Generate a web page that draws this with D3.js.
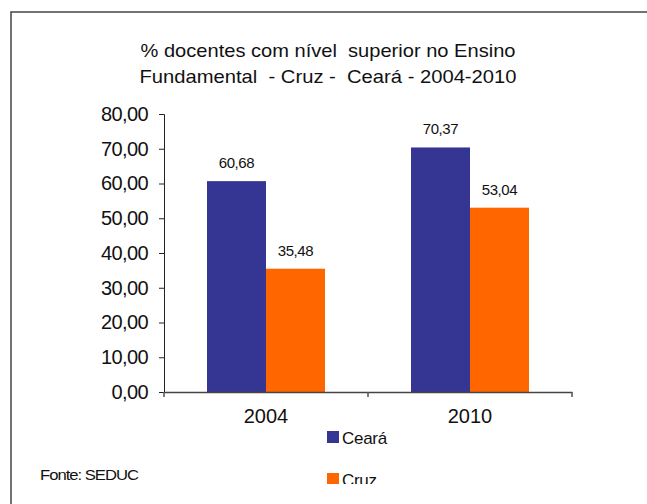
<!DOCTYPE html>
<html>
<head>
<meta charset="utf-8">
<script src="https://cdn.jsdelivr.net/npm/d3@7"></script>
<style>
  html, body { margin: 0; padding: 0; background: #ffffff; }
  svg { display: block; font-family: "Liberation Sans", Arial, sans-serif; }
</style>
</head>
<body>
<svg id="chart" width="647" height="504"></svg>
<script>
const categories = ["2004", "2010"];
const seriesNames = ["Ceará", "Cruz"];
const cearaValues = [60.68, 70.37];
const cruzValues = [35.48, 53.04];
const yTicks = [0, 10, 20, 30, 40, 50, 60, 70, 80];
const titleLines = ["% docentes com nível  superior no Ensino", "Fundamental  - Cruz -  Ceará - 2004-2010"];
const sourceText = "Fonte: SEDUC";
const colors = ["#353594", "#ff6600"];

const fmt = v => d3.format(".2f")(v).replace(".", ",");
const svg = d3.select("#chart");

// outer frame
svg.append("path")
  .attr("d", "M11,504 L11,12 L647,12")
  .attr("fill", "none").attr("stroke", "#444").attr("stroke-width", 1.5);

// title
svg.append("g").selectAll("text").data(titleLines).join("text")
  .attr("x", 328).attr("y", (d, i) => 57 + i * 26)
  .attr("text-anchor", "middle")
  .attr("font-size", 19).attr("fill", "#111")
  .attr("textLength", (d, i) => i === 0 ? 375 : 377)
  .attr("lengthAdjust", "spacingAndGlyphs")
  .style("white-space", "pre")
  .text(d => d);

const x = d3.scaleBand().domain(categories).range([164, 572]).paddingInner(0).paddingOuter(0);
const y = d3.scaleLinear().domain([0, 80]).range([392, 114]);
const barW = 59;

// y axis
const yAxis = d3.axisLeft(y).tickValues(yTicks).tickFormat(fmt).tickSize(5).tickPadding(11);
const gy = svg.append("g").attr("transform", "translate(164,0)").call(yAxis);
gy.selectAll("text").attr("font-size", 20).attr("fill", "#111")
  .attr("font-family", "Liberation Sans, Arial, sans-serif").attr("letter-spacing", -0.6);
gy.selectAll("line, path").attr("stroke", "#222");

// bars
const seriesData = [cearaValues, cruzValues];
seriesData.forEach((vals, s) => {
  svg.append("g").selectAll("rect").data(categories).join("rect")
    .attr("x", d => x(d) + x.bandwidth() / 2 - barW + s * barW)
    .attr("width", barW)
    .attr("y", (d, i) => y(vals[i]))
    .attr("height", (d, i) => y(0) - y(vals[i]))
    .attr("fill", colors[s]);
  svg.append("g").selectAll("text").data(categories).join("text")
    .attr("x", d => x(d) + x.bandwidth() / 2 - barW / 2 + s * barW)
    .attr("y", (d, i) => y(vals[i]) - 13)
    .attr("text-anchor", "middle")
    .attr("font-size", 15).attr("fill", "#111").attr("letter-spacing", -0.4)
    .text((d, i) => fmt(vals[i]));
});

// x axis
const xAxis = d3.axisBottom(x).tickSize(0).tickPadding(21);
const gx = svg.append("g").attr("transform", "translate(0,392)").call(xAxis);
gx.select(".domain").attr("stroke", "#444").attr("stroke-width", 1.5);
gx.selectAll("text").attr("font-size", 20).attr("fill", "#111")
  .attr("font-family", "Liberation Sans, Arial, sans-serif").attr("dy", "0.5em");
// category boundary ticks
gx.append("g").selectAll("line").data([164, 368, 572]).join("line")
  .attr("x1", d => d).attr("x2", d => d).attr("y1", 0).attr("y2", 5)
  .attr("stroke", "#555").attr("stroke-width", 1.5);

// legend (clipped at bottom like reference)
svg.append("clipPath").attr("id", "legclip")
  .append("rect").attr("x", 300).attr("y", 420).attr("width", 150).attr("height", 64);
const leg = svg.append("g").attr("clip-path", "url(#legclip)");
seriesNames.forEach((n, i) => {
  leg.append("rect").attr("x", 327).attr("y", 431 + i * 42).attr("width", 12).attr("height", 12).attr("fill", colors[i]);
  leg.append("text").attr("x", 342).attr("y", 444 + i * 42).attr("font-size", 17).attr("fill", "#111")
    .attr("letter-spacing", -0.3).text(n);
});

// source
svg.append("text").attr("x", 40).attr("y", 480).attr("font-size", 15).attr("fill", "#111")
  .attr("letter-spacing", -0.9).attr("textLength", 98).attr("lengthAdjust", "spacingAndGlyphs")
  .text(sourceText);
</script>
</body>
</html>
